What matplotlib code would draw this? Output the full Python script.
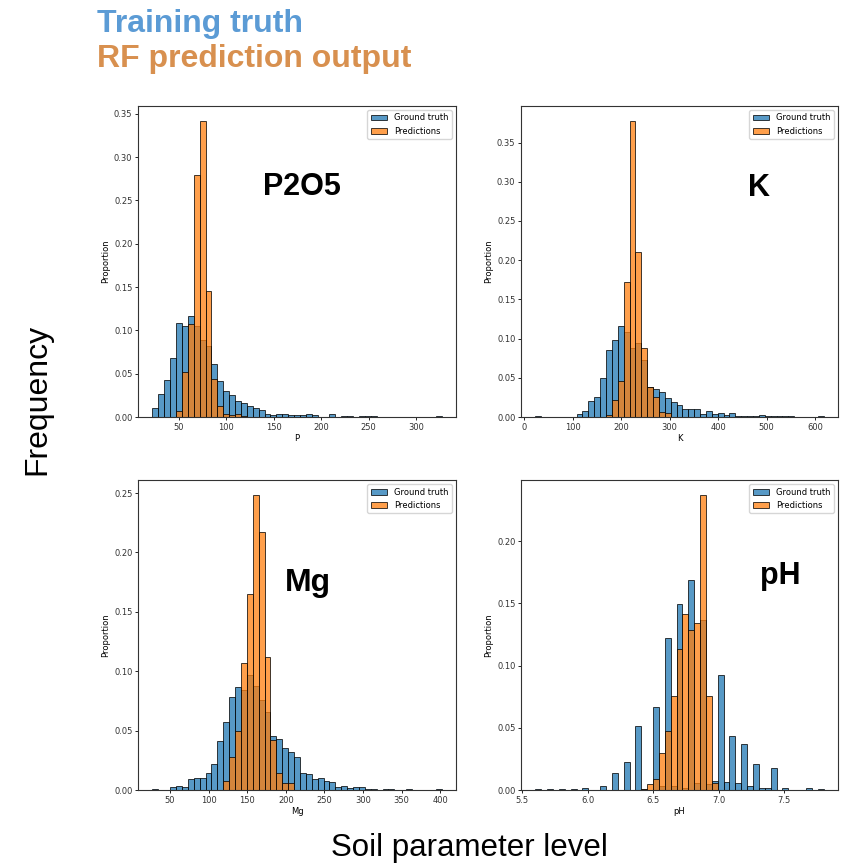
import numpy as np
import matplotlib
matplotlib.use("Agg")
import matplotlib.pyplot as plt
from matplotlib.patches import Patch

# ---------------- data (proportions per histogram bin) ----------------
# P (P2O5)
p_range = (22.0, 326.8)
p_truth = [0.0104, 0.027, 0.043, 0.068, 0.108, 0.105, 0.117, 0.105, 0.089, 0.082,
           0.061, 0.041, 0.030, 0.025, 0.019, 0.016, 0.013, 0.010, 0.0085, 0.004,
           0.002, 0.003, 0.0035, 0.002, 0.002, 0.002, 0.004, 0.002, 0.0005, 0.0,
           0.003, 0.0, 0.001, 0.001, 0.0, 0.001, 0.001, 0.001, 0.0, 0.0,
           0.0, 0.0, 0.0, 0.0, 0.0, 0.0, 0.0, 0.0, 0.001]
p_pred = [0.0, 0.0, 0.0, 0.0, 0.0065, 0.052, 0.107, 0.280, 0.342, 0.145,
          0.0435, 0.0123, 0.003, 0.002, 0.003, 0.001, 0.0, 0.0, 0.0, 0.0,
          0.0, 0.0, 0.0, 0.0, 0.0, 0.0, 0.0, 0.0, 0.0, 0.0,
          0.0, 0.0, 0.0, 0.0, 0.0, 0.0, 0.0, 0.0, 0.0, 0.0,
          0.0, 0.0, 0.0, 0.0, 0.0, 0.0, 0.0, 0.0, 0.0]

# K
k_range = (23.0, 617.6)
k_truth = [0.001, 0.0, 0.0, 0.0, 0.0, 0.0, 0.0, 0.0034, 0.0076, 0.0204,
           0.0255, 0.050, 0.0858, 0.098, 0.1164, 0.109, 0.088, 0.094, 0.0727, 0.0385,
           0.0357, 0.032, 0.0238, 0.019, 0.0157, 0.0106, 0.0106, 0.0106, 0.004, 0.008,
           0.0034, 0.0055, 0.003, 0.0055, 0.001, 0.001, 0.001, 0.001, 0.0025, 0.001,
           0.001, 0.001, 0.001, 0.001, 0.0, 0.0, 0.0, 0.0, 0.0017]
k_pred = [0.0, 0.0, 0.0, 0.0, 0.0, 0.0, 0.0, 0.0, 0.0, 0.0,
          0.0, 0.0, 0.003, 0.022, 0.046, 0.172, 0.3777, 0.211, 0.088, 0.038,
          0.026, 0.0068, 0.005, 0.0, 0.0, 0.0, 0.0, 0.0, 0.0, 0.0,
          0.0, 0.0, 0.0, 0.0, 0.0, 0.0, 0.0, 0.0, 0.0, 0.0,
          0.0, 0.0, 0.0, 0.0, 0.0, 0.0, 0.0, 0.0, 0.0]

# Mg
mg_range = (27.2, 401.7)
mg_truth = [0.001, 0.0, 0.0, 0.0025, 0.0036, 0.0028, 0.0092, 0.0103, 0.010, 0.0143,
            0.022, 0.041, 0.0576, 0.078, 0.087, 0.084, 0.0965, 0.0878, 0.0758, 0.0656,
            0.0453, 0.0428, 0.0352, 0.032, 0.028, 0.0143, 0.0137, 0.0095, 0.010, 0.0073,
            0.0067, 0.0025, 0.0036, 0.0017, 0.0025, 0.0025, 0.001, 0.001, 0.0, 0.001,
            0.001, 0.0, 0.0, 0.001, 0.0, 0.0, 0.0, 0.0, 0.001]
mg_pred = [0.0, 0.0, 0.0, 0.0, 0.0, 0.0, 0.0, 0.0, 0.0, 0.0,
           0.0, 0.0, 0.0075, 0.0277, 0.0495, 0.1066, 0.165, 0.2486, 0.217, 0.1116,
           0.0422, 0.014, 0.0059, 0.0059, 0.0, 0.0, 0.0, 0.0, 0.0, 0.0,
           0.0, 0.0, 0.0, 0.0, 0.0, 0.0, 0.0, 0.0, 0.0, 0.0,
           0.0, 0.0, 0.0, 0.0, 0.0, 0.0, 0.0, 0.0, 0.0]

# pH
ph_range = (5.6, 7.8)
ph_truth = [0.0005, 0.0, 0.0005, 0.0, 0.0005, 0.0, 0.001, 0.0, 0.0015, 0.0,
            0.0, 0.003, 0.0, 0.0136, 0.0, 0.0227, 0.0, 0.0516, 0.001, 0.0,
            0.0665, 0.003, 0.1225, 0.003, 0.1497, 0.002, 0.169, 0.006, 0.137, 0.005,
            0.0072, 0.0926, 0.0067, 0.0438, 0.0056, 0.0366, 0.003, 0.0206, 0.0013, 0.0013,
            0.0174, 0.0, 0.0013, 0.0, 0.0, 0.0, 0.0013, 0.0, 0.0008]
ph_pred = [0.0, 0.0, 0.0, 0.0, 0.0, 0.0, 0.0, 0.0, 0.0, 0.0,
           0.0, 0.0, 0.0, 0.0, 0.0, 0.0, 0.0, 0.0, 0.001, 0.0046,
           0.0087, 0.0296, 0.0474, 0.0754, 0.1136, 0.1416, 0.1282, 0.134, 0.2373, 0.0754,
           0.006, 0.0, 0.0, 0.0, 0.0, 0.0, 0.0, 0.0, 0.0, 0.0,
           0.0, 0.0, 0.0, 0.0, 0.0, 0.0, 0.0, 0.0, 0.0]

panel_names = ["P2O5", "K", "Mg", "pH"]
x_labels = ["P", "K", "Mg", "pH"]
legend_labels = ["Ground truth", "Predictions"]

# ---------------- styling ----------------
BLUE = "#1f77b4"
ORANGE = "#ff7f0e"
ALPHA = 0.75
W, H = 846, 863
fig = plt.figure(figsize=(W / 100, H / 100), dpi=100)

def px_axes(x0, y0, x1, y1):
    return fig.add_axes([x0 / W, 1 - y1 / H, (x1 - x0) / W, (y1 - y0) / H])

axes = [px_axes(138, 106, 456, 417), px_axes(521, 106, 838, 417),
        px_axes(138, 480, 456, 790), px_axes(521, 480, 838, 790)]

datasets = [(p_range, p_truth, p_pred), (k_range, k_truth, k_pred),
            (mg_range, mg_truth, mg_pred), (ph_range, ph_truth, ph_pred)]

label_pos = [(0.516, 0.714, 22), (0.751, 0.711, 22), (0.535, 0.642, 23), (0.817, 0.665, 22)]

for ax, (rng, truth, pred), name, xl, lp in zip(axes, datasets, panel_names, x_labels, label_pos):
    n = len(truth)
    edges = np.linspace(rng[0], rng[1], n + 1)
    w = edges[1] - edges[0]
    ax.bar(edges[:-1], truth, width=w, align="edge", color=BLUE, alpha=ALPHA,
           edgecolor="black", linewidth=0.7)
    ax.bar(edges[:-1], pred, width=w, align="edge", color=ORANGE, alpha=ALPHA,
           edgecolor="black", linewidth=0.7)
    ax.set_xlabel(xl, fontsize=6, labelpad=1.5)
    ax.set_ylabel("Proportion", fontsize=6, labelpad=3)
    ax.tick_params(labelsize=6, length=2.5, width=0.6, pad=1.5, labelcolor="#333333")
    for s in ax.spines.values():
        s.set_linewidth(0.8)
        s.set_color("#333333")
    handles = [Patch(facecolor=BLUE, edgecolor="black", alpha=ALPHA, linewidth=0.7),
               Patch(facecolor=ORANGE, edgecolor="black", alpha=ALPHA, linewidth=0.7)]
    ax.legend(handles, legend_labels, loc="upper right", fontsize=6)
    ax.text(lp[0], lp[1], name, transform=ax.transAxes, ha="center", va="baseline",
            fontsize=lp[2], fontweight="bold", family="Liberation Sans", color="black")

axes[0].set_yticks(np.arange(0, 0.351, 0.05))
axes[1].set_yticks(np.arange(0, 0.351, 0.05))
axes[2].set_yticks(np.arange(0, 0.251, 0.05))
axes[3].set_yticks(np.arange(0, 0.201, 0.05))

fig.text(97 / W, 1 - 32 / H, "Training truth", fontsize=23, fontweight="bold",
         family="Liberation Sans", color="#5b9bd5", ha="left", va="baseline")
fig.text(97 / W, 1 - 67 / H, "RF prediction output", fontsize=23, fontweight="bold",
         family="Liberation Sans", color="#d8904f", ha="left", va="baseline")
fig.text(37 / W, 1 - 399 / H, "Frequency", fontsize=23, family="Liberation Sans",
         rotation=90, ha="center", va="center")
fig.text(469 / W, 1 - 856 / H, "Soil parameter level", fontsize=22.5,
         family="Liberation Sans", ha="center", va="baseline")

fig.savefig("out.png", dpi=100)
